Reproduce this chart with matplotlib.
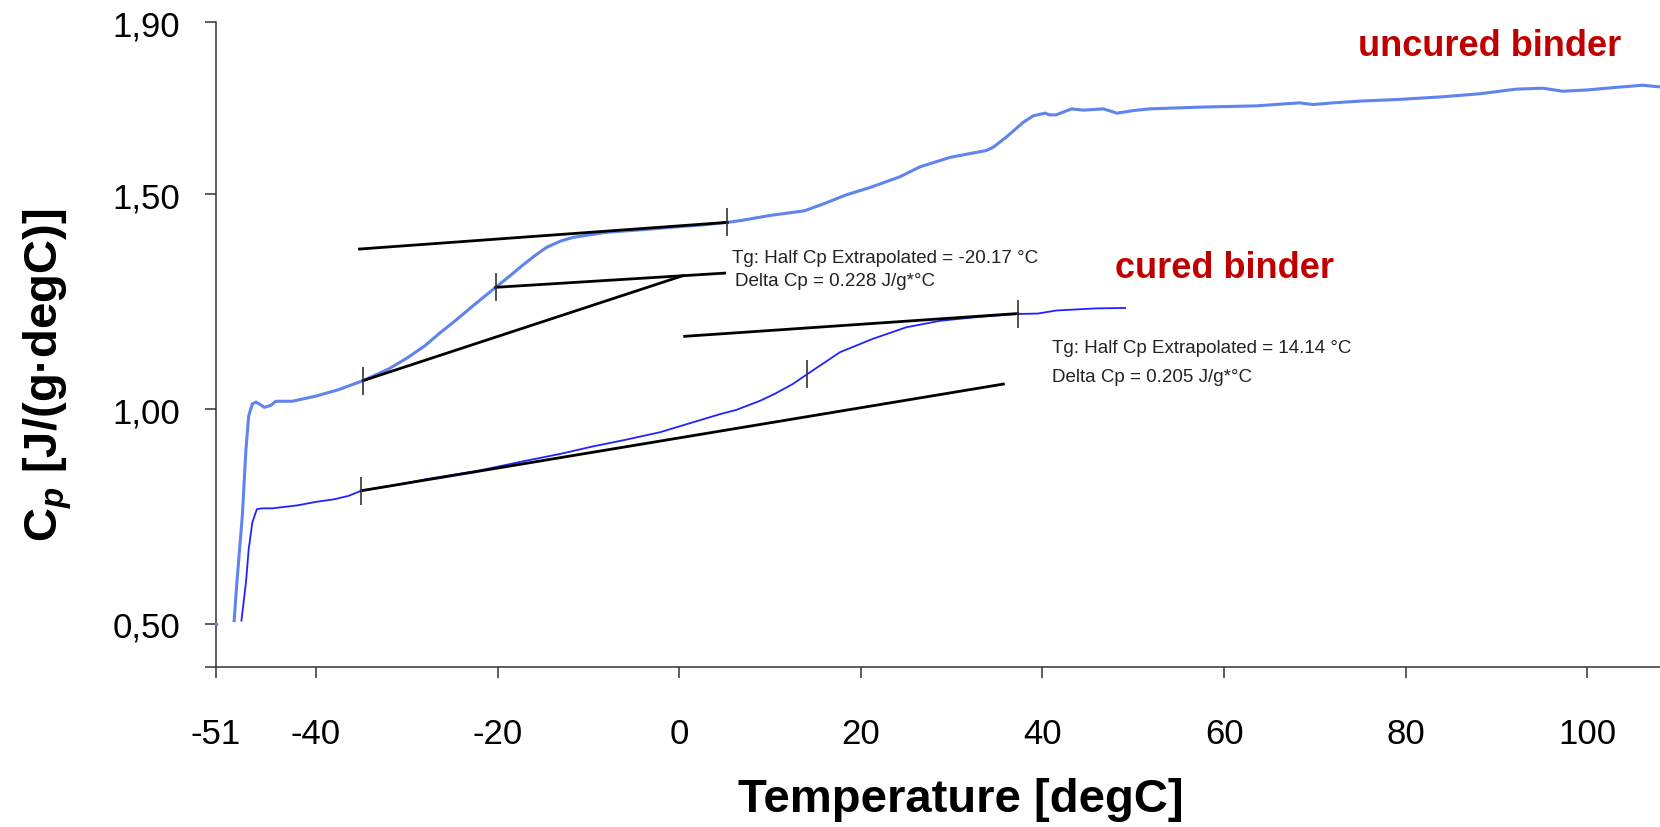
import matplotlib
matplotlib.use("Agg")
import matplotlib.pyplot as plt

SANS = ['Liberation Sans', 'DejaVu Sans']
plt.rcParams['font.family'] = SANS
plt.rcParams['mathtext.fontset'] = 'custom'
plt.rcParams['mathtext.bf'] = 'Liberation Sans:bold'
plt.rcParams['mathtext.it'] = 'Liberation Sans:bold:italic'
plt.rcParams['mathtext.rm'] = 'Liberation Sans:bold'

# uncured binder Cp curve (degC, J/(g degC))
uncured_T = [-49.0, -48.7, -48.1, -47.7, -47.4, -47.0, -46.6, -46.1, -45.7, -45.0,
             -44.4, -42.6, -40.0, -37.5, -34.8, -32.0, -30.0, -28.0, -26.4, -24.5,
             -22.7, -20.2, -18.5, -17.2, -15.8, -14.6, -13.0, -11.7, -8.0, -4.0,
             -0.7, 2.5, 5.3, 6.7, 10.0, 13.8, 16.0, 18.4, 21.0, 24.3,
             26.5, 29.8, 32.0, 33.8, 34.6, 36.0, 37.9, 39.0, 40.3, 40.8,
             41.5, 43.2, 44.5, 46.7, 48.2, 50.0, 51.8, 57.3, 63.6, 68.3,
             69.8, 72.0, 75.0, 79.3, 84.0, 88.1, 92.2, 95.1, 97.3, 100.0,
             103.2, 106.1, 108.0]
uncured_cp = [0.508, 0.597, 0.752, 0.907, 0.984, 1.012, 1.016, 1.010, 1.004, 1.008,
              1.018, 1.018, 1.030, 1.045, 1.066, 1.093, 1.118, 1.147, 1.176, 1.208,
              1.240, 1.283, 1.312, 1.335, 1.358, 1.376, 1.391, 1.399, 1.411, 1.417,
              1.423, 1.428, 1.434, 1.438, 1.450, 1.461, 1.478, 1.498, 1.515, 1.540,
              1.563, 1.585, 1.594, 1.601, 1.609, 1.632, 1.667, 1.682, 1.688, 1.684,
              1.684, 1.698, 1.695, 1.698, 1.688, 1.694, 1.698, 1.702, 1.705, 1.712,
              1.708, 1.712, 1.716, 1.720, 1.726, 1.733, 1.744, 1.746, 1.739, 1.742,
              1.748, 1.753, 1.749]

# cured binder Cp curve
cured_T = [-48.2, -47.7, -47.4, -47.0, -46.5, -45.9, -44.8, -42.0, -40.0, -38.0,
           -36.4, -35.0, -31.5, -27.8, -22.0, -16.8, -13.0, -9.5, -6.0, -2.1,
           1.5, 4.5, 6.3, 8.9, 10.5, 12.5, 14.1, 17.7, 21.3, 25.0,
           28.7, 32.4, 37.3, 39.5, 41.5, 45.9, 49.1]
cured_cp = [0.508, 0.597, 0.674, 0.736, 0.767, 0.769, 0.769, 0.776, 0.784, 0.790,
            0.798, 0.810, 0.822, 0.837, 0.857, 0.880, 0.896, 0.913, 0.928, 0.946,
            0.969, 0.988, 0.998, 1.019, 1.035, 1.058, 1.081, 1.132, 1.163, 1.190,
            1.205, 1.213, 1.221, 1.222, 1.229, 1.234, 1.235]

# stray start point of the uncured trace at the left edge
stray_T = [-51.0]
stray_cp = [0.50]

# Tg analysis tangent lines: (T0, T1), (cp0, cp1)
tangents = [
    ((-35.2, 5.3), (1.372, 1.434)),
    ((-20.2, 5.0), (1.283, 1.316)),
    ((-34.8, 0.4), (1.066, 1.310)),
    ((0.6, 37.3), (1.169, 1.222)),
    ((-35.0, 35.7), (0.810, 1.058)),
]
marker_T = [-34.8, -20.2, 5.3, -35.0, 14.1, 37.3]
marker_cp = [1.066, 1.283, 1.434, 0.810, 1.081, 1.222]

notes = [
    (5.8, 1.353, "Tg: Half Cp Extrapolated = -20.17 °C"),
    (6.1, 1.299, "Delta Cp = 0.228 J/g*°C"),
    (41.0, 1.143, "Tg: Half Cp Extrapolated = 14.14 °C"),
    (41.1, 1.076, "Delta Cp = 0.205 J/g*°C"),
]
labels = [(89.2, 1.846, "uncured binder"), (60.1, 1.330, "cured binder")]

xticks = [-51, -40, -20, 0, 20, 40, 60, 80, 100]
yticks = [0.40, 0.50, 1.00, 1.50, 1.90]
ytick_labels = ["", "0,50", "1,00", "1,50", "1,90"]

fig = plt.figure(figsize=(16.6, 8.28), dpi=100)
ax = fig.add_axes([216/1660, 160/828, 1444/1660, 645/828])

ax.plot(uncured_T, uncured_cp, color='#5f84ee', lw=2.2, zorder=3)
ax.plot(stray_T, stray_cp, ls='none', marker='s', ms=2, color='#5f84ee', zorder=3, clip_on=False)
ax.plot(cured_T, cured_cp, color='#2222ff', lw=1.3, zorder=3)
for (tx, cy) in tangents:
    ax.plot(tx, cy, color='black', lw=2.0, zorder=4)
ax.plot(marker_T, marker_cp, ls='none', marker='|', ms=20, mew=1.2, color='#333333', zorder=5)

for x, y, s in notes:
    ax.text(x, y, s, fontsize=13.5, color='#222222', va='center', ha='left')
for x, y, s in labels:
    ax.text(x, y, s, fontsize=26, color='#c00000', fontweight='bold', ha='center', va='center')

ax.set_xlim(-51, 108)
ax.set_ylim(0.40, 1.90)
ax.set_xticks(xticks)
ax.set_xticklabels([str(t) for t in xticks])
ax.set_yticks(yticks)
ax.set_yticklabels(ytick_labels)
ax.tick_params(axis='both', direction='out', length=8, width=1.1, color='#333333',
               labelsize=25)
ax.tick_params(axis='x', pad=28)
ax.tick_params(axis='y', pad=18)
for side in ['top', 'right']:
    ax.spines[side].set_visible(False)
for side in ['left', 'bottom']:
    ax.spines[side].set_color('#333333')
    ax.spines[side].set_linewidth(1.1)

ax.set_xlabel('Temperature [degC]', fontsize=34, fontweight='bold', va='top')
ax.xaxis.set_label_coords(0.516, -0.171)
ax.set_ylabel(r'$\mathbf{C}_p$ [J/(g·degC)]', fontsize=34, fontweight='bold')
ax.yaxis.set_label_coords(-0.098, 0.454)

fig.savefig('out.png', dpi=100)
